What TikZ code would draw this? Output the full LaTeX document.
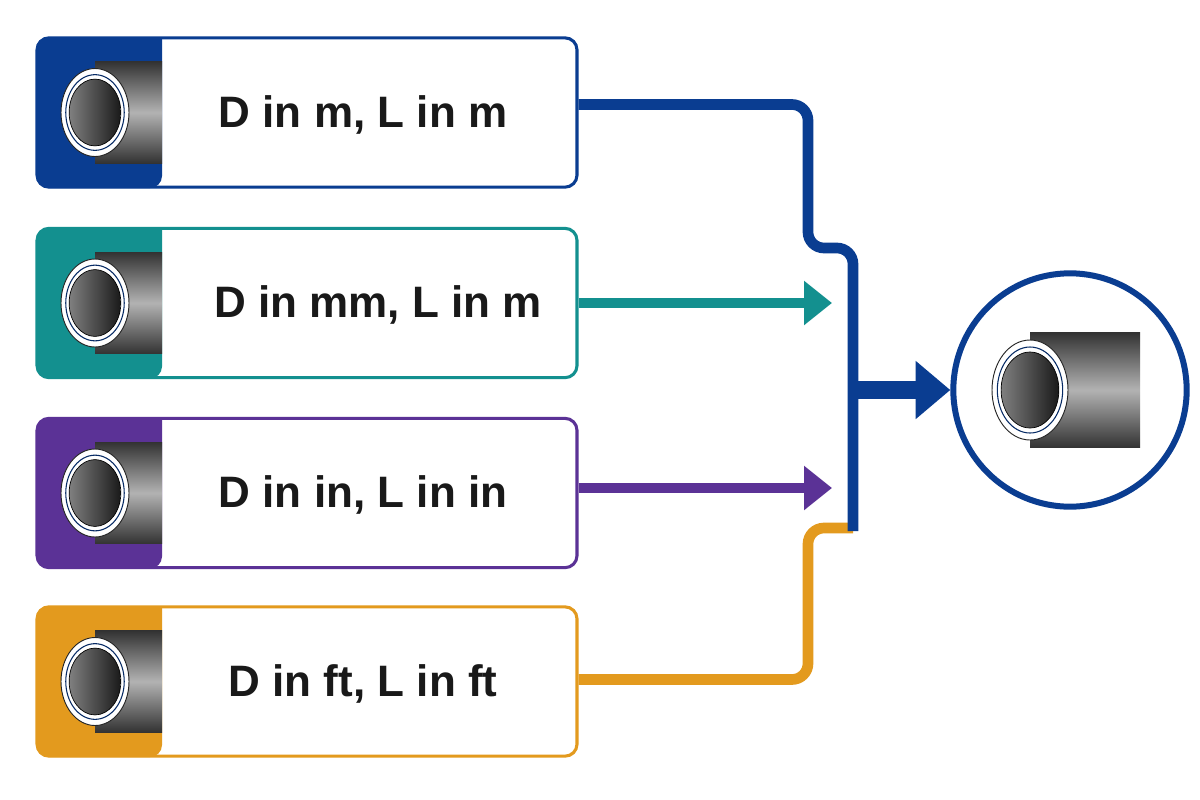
\documentclass[tikz,border=0pt]{standalone}
\usepackage{fontspec}
\setmainfont{Liberation Sans}
\usetikzlibrary{arrows.meta,calc}
\definecolor{cblue}{HTML}{0A3D91}
\definecolor{cteal}{HTML}{13908F}
\definecolor{cpurp}{HTML}{5B3296}
\definecolor{corng}{HTML}{E39A1E}
\newcommand\pipeicon[5]{%
  \shade[top color=black!80, bottom color=black!80, middle color=black!30]
    (#1,#2-#4*1.15) rectangle (#5,#2+#4*1.15);
  \draw[fill=white, draw=black!85, line width=0.7pt] (#1,#2) ellipse [x radius=#3*0.75pt, y radius=#4*0.75pt];
  \draw[draw=cblue!70!black, line width=0.8pt] (#1,#2) ellipse [x radius=#3*0.86*0.75pt, y radius=#4*0.86*0.75pt];
  \shade[shading angle=30, left color=black!50, right color=black!90, draw=black, line width=0.5pt]
    (#1,#2) ellipse [x radius=#3*0.76*0.75pt, y radius=#4*0.76*0.75pt];
}
\begin{document}
\begin{tikzpicture}[x=0.75pt,y=-0.75pt,
  box/.style={draw=#1, line width=2.3pt, fill=white, rounded corners=9pt, minimum width=405pt, minimum height=112pt, inner sep=0pt},
  lbl/.style={font=\fontsize{33}{38}\selectfont\bfseries, text=black!90},
  conn/.style={line width=8pt, rounded corners=12pt},
  arr/.style={line width=8pt, -{Triangle[length=21pt,width=32pt]}}]
\useasboundingbox (0,0) rectangle (1200,800);
\fill[white] (0,0) rectangle (1200,800);
% boxes
\foreach \n/\c/\y in {1/cblue/112.5, 2/cteal/303, 3/cpurp/493, 4/corng/681.5}{
  \node[box=\c] (b\n) at (307,\y) {};
  \fill[\c, rounded corners=9pt] (162,\y-75.5) -- (37,\y-75.5) -- (37,\y+75.5) -- (162,\y+75.5) [sharp corners] -- cycle;
  \pipeicon{95}{\y}{34}{44}{162}
}
\node[lbl] (t1) at (363,115) {D in m, L in m};
\node[lbl] (t2) at (378,305) {D in mm, L in m};
\node[lbl] (t3) at (363,495) {D in in, L in in};
\node[lbl] (t4) at (363,684) {D in ft, L in ft};
% target
\node[circle, draw=cblue, line width=4.5pt, minimum size=175pt, fill=white] (goal) at (1070,390) {};
\pipeicon{1030}{390}{38}{50}{1140}
% connectors
\coordinate (j) at (853,390);
\draw[conn, corng] ($(b4.east)+(0,-2)$) -- (808,679.5) -- (808,528) -- (853,528);
\draw[conn, cblue] ($(b1.east)+(0,-8)$) -- (808,104.5) -- (808,248) -- (853,248) -- (853,531);
\draw[arr, cteal] (b2.east) -- (832,303);
\draw[arr, cpurp] ($(b3.east)+(0,-5)$) -- (832,488);
\draw[cblue, line width=14pt, -{Triangle[length=26pt,width=42pt]}] (j) -- (goal.west);
\end{tikzpicture}
\end{document}
